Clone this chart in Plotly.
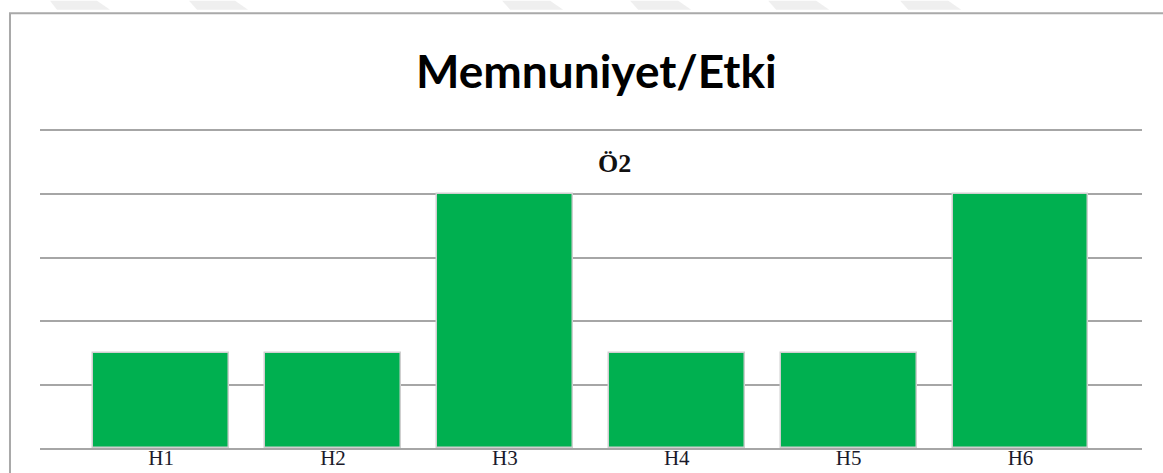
import plotly.graph_objects as go

# Survey item Ö2: score per group
categories = ["H1", "H2", "H3", "H4", "H5", "H6"]
values = [1.5, 1.5, 4, 1.5, 1.5, 4]
y_ticks = [0, 1, 2, 3, 4, 5]

W, H = 1163, 473
ML, MR, MT, MB = 40, 21.3, 130.5, 25
PW = W - ML - MR
PH = H - MT - MB


def px(x):
    return (x - ML) / PW


def py(y):
    return (H - MB - y) / PH


fig = go.Figure(
    go.Bar(
        x=categories,
        y=values,
        width=0.79,
        marker=dict(color="#00B050", line=dict(color="#CFCFCF", width=1.5)),
    )
)

shapes = []
# chart frame
shapes.append(dict(type="rect", xref="paper", yref="paper",
                   x0=px(10), x1=px(1180), y0=py(12.5), y1=py(500),
                   line=dict(color="#A9A9A9", width=2), layer="below"))
# faint stripes along the top edge
stripes = [(50, 97, 57, 110), (189, 235, 197, 248), (502, 550, 510, 563),
           (630, 678, 638, 691), (768, 816, 776, 829), (900, 948, 908, 961)]
for a, b, c, d in stripes:
    path = (f"M {px(a)} {py(0)} L {px(b)} {py(0)} "
            f"L {px(d)} {py(9)} L {px(c)} {py(9)} Z")
    shapes.append(dict(type="path", xref="paper", yref="paper", path=path,
                       fillcolor="#EFEFEF", line=dict(width=0), layer="below"))

fig.update_layout(
    width=W, height=H,
    margin=dict(l=ML, r=MR, t=MT, b=MB, pad=0, autoexpand=False),
    paper_bgcolor="white", plot_bgcolor="white",
    showlegend=False,
    bargap=0,
    shapes=shapes,
    annotations=[
        dict(text="<b>Memnuniyet/Etki</b>", xref="paper", yref="paper",
             x=px(596), y=py(70), xanchor="center", yanchor="middle",
             showarrow=False, font=dict(family="Lato", size=46, color="#000000")),
        dict(text="<b>Ö2</b>", xref="paper", yref="paper",
             x=px(614), y=py(163), xanchor="center", yanchor="middle",
             showarrow=False, font=dict(family="Liberation Serif", size=26, color="#111111")),
    ],
    xaxis=dict(
        range=[-0.705, 5.707],
        automargin=False,
        showgrid=False, zeroline=False,
        showline=True, mirror=True, linecolor="#A6A6A6", linewidth=2,
        ticks="", ticklabelstandoff=-10,
        tickfont=dict(family="Liberation Serif", size=21, color="#1A1A2A"),
    ),
    yaxis=dict(
        range=[0, 5], tickvals=y_ticks, showticklabels=False,
        automargin=False,
        showgrid=True, gridcolor="#A6A6A6", gridwidth=2,
        zeroline=False, showline=False, ticks="",
    ),
)

fig.write_html("out.html")
